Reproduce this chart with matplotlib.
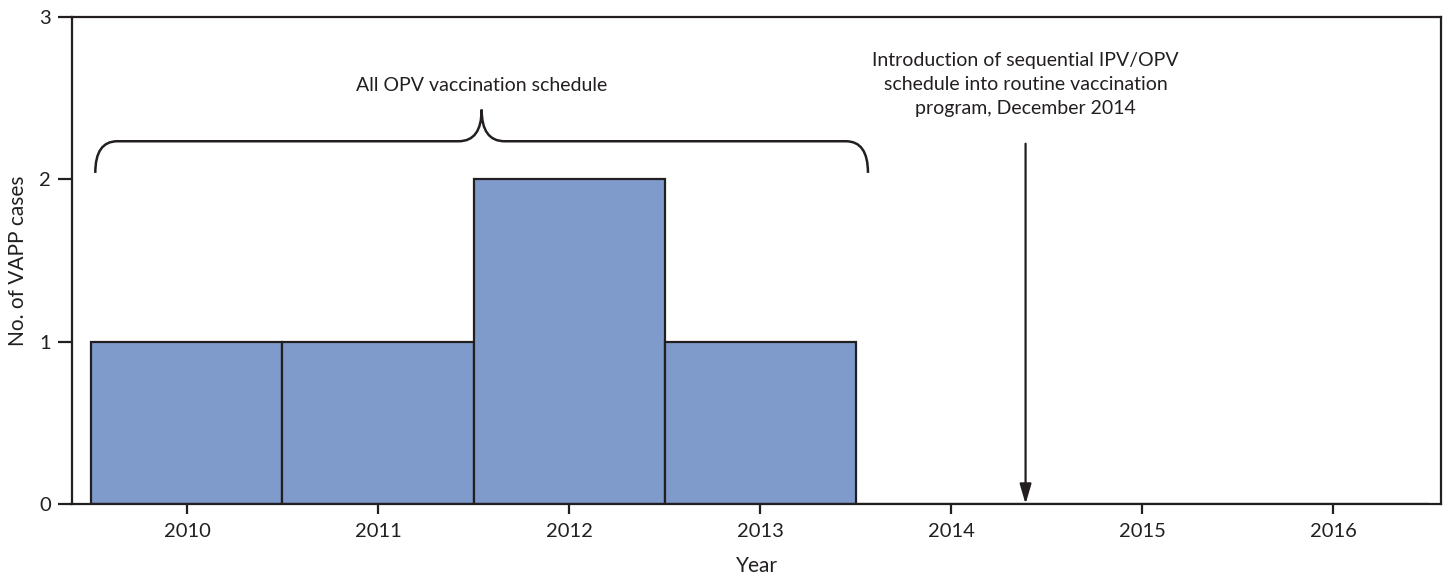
import matplotlib
matplotlib.use("Agg")
import matplotlib.pyplot as plt
from matplotlib.path import Path
from matplotlib.patches import PathPatch

plt.rcParams["font.family"] = ["Lato", "DejaVu Sans"]

years = [2010, 2011, 2012, 2013, 2014, 2015, 2016]
cases = [1, 1, 2, 1, 0, 0, 0]
yticks = [0, 1, 2, 3]

brace_label = "All OPV vaccination schedule"
intro_label = ("Introduction of sequential IPV/OPV\n"
               "schedule into routine vaccination\n"
               "program, December 2014")
intro_year = 2014.39          # December 2014
brace_start, brace_end = 2009.52, 2013.565

ink = "#231f20"
fill = "#7f9bcc"

fig = plt.figure(figsize=(14.48, 5.79), dpi=100)
ax = fig.add_axes([0.0497, 0.1295, 0.9455, 0.841])

ax.bar(years, cases, width=1.0, color=fill, edgecolor=ink, linewidth=1.6, zorder=2)

ax.set_xlim(2009.398, 2016.565)
ax.set_ylim(0, 3)
ax.set_xticks(years)
ax.set_yticks(yticks)
ax.tick_params(axis="both", direction="out", colors=ink, labelsize=14.5, width=1.6)
ax.tick_params(axis="y", length=10, pad=5)
ax.tick_params(axis="x", length=7, pad=7)
for s in ax.spines.values():
    s.set_linewidth(1.6)
    s.set_color(ink)
    s.set_zorder(3)

ax.set_xlabel("Year", fontsize=15, color=ink, labelpad=11)
ax.set_ylabel("No. of VAPP cases", fontsize=15, color=ink, labelpad=8)

# curly brace over the all-OPV years
y0, yb, yp = 2.04, 2.235, 2.43
rx, cw = 0.115, 0.12
c = (brace_start + brace_end) / 2
verts = [(brace_start, y0), (brace_start, yb), (brace_start + rx, yb),
         (c - cw, yb), (c, yb), (c, yp),
         (c, yb), (c + cw, yb),
         (brace_end - rx, yb), (brace_end, yb), (brace_end, y0)]
codes = [Path.MOVETO, Path.CURVE3, Path.CURVE3,
         Path.LINETO, Path.CURVE3, Path.CURVE3,
         Path.CURVE3, Path.CURVE3,
         Path.LINETO, Path.CURVE3, Path.CURVE3]
ax.add_patch(PathPatch(Path(verts, codes), fill=False, edgecolor=ink,
                       linewidth=1.8, capstyle="butt", clip_on=False))
ax.text(c, 2.58, brace_label, ha="center", va="center", fontsize=14, color=ink)

# arrow marking IPV/OPV introduction
ax.annotate("", xy=(intro_year, 0.0), xytext=(intro_year, 2.22),
            arrowprops=dict(arrowstyle="-|>,head_length=1.2,head_width=0.35",
                            color=ink, lw=1.6, shrinkA=0, shrinkB=0))
ax.text(intro_year, 2.585, intro_label, ha="center", va="center",
        fontsize=14, color=ink, linespacing=1.5)

fig.savefig("out.png", dpi=100)
